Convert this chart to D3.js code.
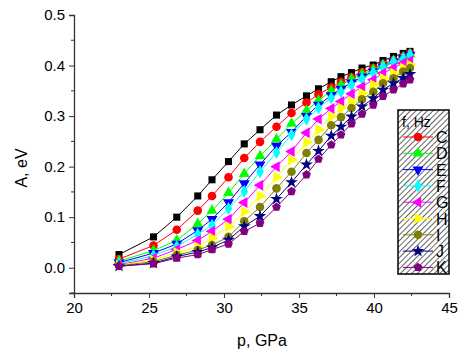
<!DOCTYPE html>
<html>
<head>
<meta charset="utf-8">
<script src="https://cdn.jsdelivr.net/npm/d3@7"></script>
<style>
body { margin: 0; background: #fff; }
text { font-family: "Liberation Sans", Arial, sans-serif; }
</style>
</head>
<body>
<script>
var width = 467, height = 354

// pressure, GPa
var pressure = [23, 25.3, 26.85, 28.25, 29.2, 30.3, 31.35, 32.4, 33.5, 34.5, 35.5, 36.3, 37.15, 37.8, 38.5, 39.2, 39.95, 40.6, 41.3, 41.95, 42.4]

var seriesB = [0.026, 0.061, 0.100, 0.142, 0.174, 0.210, 0.245, 0.273, 0.302, 0.322, 0.340, 0.354, 0.368, 0.378, 0.386, 0.395, 0.401, 0.410, 0.418, 0.424, 0.428]
var seriesC = [0.017, 0.044, 0.075, 0.113, 0.142, 0.179, 0.217, 0.249, 0.279, 0.306, 0.327, 0.343, 0.357, 0.368, 0.377, 0.387, 0.395, 0.403, 0.411, 0.418, 0.424]
var seriesD = [0.013, 0.034, 0.054, 0.087, 0.113, 0.148, 0.186, 0.221, 0.254, 0.285, 0.311, 0.331, 0.350, 0.362, 0.373, 0.383, 0.392, 0.401, 0.409, 0.416, 0.422]
var seriesE = [0.010, 0.029, 0.047, 0.074, 0.096, 0.129, 0.167, 0.204, 0.241, 0.268, 0.300, 0.322, 0.341, 0.354, 0.366, 0.378, 0.388, 0.398, 0.407, 0.414, 0.421]
var seriesF = [0.008, 0.024, 0.042, 0.066, 0.084, 0.117, 0.151, 0.190, 0.228, 0.263, 0.294, 0.316, 0.336, 0.348, 0.362, 0.374, 0.386, 0.398, 0.408, 0.414, 0.421]
var seriesG = [0.006, 0.019, 0.036, 0.054, 0.072, 0.096, 0.129, 0.163, 0.200, 0.230, 0.267, 0.294, 0.315, 0.329, 0.344, 0.358, 0.372, 0.385, 0.395, 0.405, 0.409]
var seriesH = [0.005, 0.015, 0.030, 0.041, 0.059, 0.081, 0.111, 0.142, 0.179, 0.213, 0.248, 0.273, 0.299, 0.316, 0.329, 0.345, 0.362, 0.375, 0.385, 0.395, 0.401]
var seriesI = [0.004, 0.012, 0.025, 0.035, 0.045, 0.061, 0.092, 0.120, 0.157, 0.190, 0.227, 0.253, 0.282, 0.298, 0.316, 0.333, 0.348, 0.365, 0.375, 0.388, 0.395]
var seriesJ = [0.003, 0.009, 0.022, 0.031, 0.040, 0.055, 0.082, 0.102, 0.136, 0.169, 0.204, 0.231, 0.261, 0.279, 0.299, 0.319, 0.335, 0.352, 0.365, 0.375, 0.383]
var seriesK = [0.003, 0.008, 0.019, 0.026, 0.036, 0.047, 0.072, 0.088, 0.120, 0.151, 0.184, 0.215, 0.243, 0.263, 0.285, 0.304, 0.322, 0.339, 0.352, 0.364, 0.372]

var labels = ['', 'C', 'D', 'E', 'F', 'G', 'H', 'I', 'J', 'K']
var colors = ['#000000', '#ff0000', '#00ff00', '#0000ff', '#00ffff', '#ff00ff', '#ffff00', '#808000', '#000080', '#800080']
var xTicks = [20, 25, 30, 35, 40, 45]
var yTicks = [0.0, 0.1, 0.2, 0.3, 0.4, 0.5]

var allSeries = [seriesB, seriesC, seriesD, seriesE, seriesF, seriesG, seriesH, seriesI, seriesJ, seriesK]

// marker shapes
var sym = [
    d3.symbol().type(d3.symbolSquare).size(50),
    d3.symbol().type(d3.symbolCircle).size(58),
    d3.symbol().type(d3.symbolTriangle).size(52),
    d3.symbol().type(d3.symbolTriangle).size(52),
    d3.symbol().type(d3.symbolDiamond).size(50),
    d3.symbol().type(d3.symbolTriangle).size(52),
    d3.symbol().type(d3.symbolTriangle).size(52),
    d3.symbol().type(d3.symbolCircle).size(58),
    d3.symbol().type(d3.symbolStar).size(50),
    d3.symbol().type(d3.symbolCircle).size(58)
]
var rot = [0, 0, 0, 180, 0, -90, 90, 0, 0, 0]

// pentagon for last series
function pentagon(r) {
    var p = []
    for (var i = 0; i < 5; i++) {
        var a = -Math.PI / 2 + i * 2 * Math.PI / 5
        p.push([r * Math.cos(a), r * Math.sin(a)])
    }
    return 'M' + p.join('L') + 'Z'
}

var svg = d3.select('body')
    .append('svg')
    .attr('width', width)
    .attr('height', height)

var xScale = d3.scaleLinear().domain([20, 45]).range([74, 449])
var yScale = d3.scaleLinear().domain([-0.05, 0.5]).range([293, 15])

// hatch pattern for legend
var defs = svg.append('defs')
var pat = defs.append('pattern')
    .attr('id', 'hatch')
    .attr('patternUnits', 'userSpaceOnUse')
    .attr('width', 4)
    .attr('height', 4)
    .attr('patternTransform', 'rotate(45)')
pat.append('rect').attr('width', 4).attr('height', 4).attr('fill', '#fff')
pat.append('line')
    .attr('x1', 0).attr('y1', 0).attr('x2', 0).attr('y2', 4)
    .attr('stroke', '#222').attr('stroke-width', 1.4)

// lines + markers
var line = d3.line()
    .x((d, i) => xScale(pressure[i]))
    .y(d => yScale(d))

allSeries.forEach(function(s, k) {
    svg.append('path')
        .attr('d', line(s))
        .attr('fill', 'none')
        .attr('stroke', colors[k])
        .attr('stroke-width', 1)

    svg.selectAll('.m' + k)
        .data(s)
        .enter()
        .append('path')
        .attr('class', 'm' + k)
        .attr('d', k == 9 ? pentagon(4.6) : sym[k]())
        .attr('transform', (d, i) => 'translate(' + xScale(pressure[i]) + ',' + yScale(d) + ') rotate(' + rot[k] + ')')
        .attr('fill', colors[k])
})

// x axis
var xAxis = svg.append('g')
    .attr('transform', 'translate(0,293)')
    .call(d3.axisBottom(xScale).tickValues(xTicks).tickSize(5).tickPadding(4).tickFormat(d3.format('d')))
xAxis.append('g')
    .selectAll('line')
    .data(d3.range(22.5, 45, 5))
    .enter()
    .append('line')
    .attr('x1', d => xScale(d)).attr('x2', d => xScale(d))
    .attr('y1', 0).attr('y2', 3)
    .attr('stroke', '#333')

// y axis
var yAxis = svg.append('g')
    .attr('transform', 'translate(74,0)')
    .call(d3.axisLeft(yScale).tickValues(yTicks).tickSize(5).tickPadding(4).tickFormat(d3.format('.1f')))
yAxis.append('g')
    .selectAll('line')
    .data([-0.05, 0.05, 0.15, 0.25, 0.35, 0.45])
    .enter()
    .append('line')
    .attr('y1', d => yScale(d)).attr('y2', d => yScale(d))
    .attr('x1', 0).attr('x2', -3)
    .attr('stroke', '#333')

svg.selectAll('.domain').attr('stroke', '#333').attr('stroke-width', 1.3)
svg.selectAll('.tick line').attr('stroke', '#333')
svg.selectAll('.tick text')
    .style('font-size', '15px')
    .style('font-family', '"Liberation Sans", Arial, sans-serif')
    .attr('fill', '#000')

// axis titles
svg.append('text')
    .text('p, GPa')
    .attr('x', 262)
    .attr('y', 346)
    .attr('text-anchor', 'middle')
    .style('font-size', '16px')

svg.append('text')
    .text('A, eV')
    .attr('transform', 'translate(27,168) rotate(-90)')
    .attr('text-anchor', 'middle')
    .style('font-size', '16px')

// legend
var legend = svg.append('g')

legend.append('rect')
    .attr('x', 398)
    .attr('y', 110)
    .attr('width', 51)
    .attr('height', 164)
    .attr('fill', 'url(#hatch)')
    .attr('stroke', '#000')
    .attr('stroke-width', 1.5)

legend.append('text')
    .text('f, Hz')
    .attr('x', 402)
    .attr('y', 127)
    .style('font-size', '14px')

for (var k = 1; k < 10; k++) {
    var ly = 137 + (k - 1) * 16.3
    legend.append('line')
        .attr('x1', 403).attr('x2', 433)
        .attr('y1', ly).attr('y2', ly)
        .attr('stroke', colors[k])
    legend.append('path')
        .attr('d', k == 9 ? pentagon(4.6) : sym[k]())
        .attr('transform', 'translate(418,' + ly + ') rotate(' + rot[k] + ')')
        .attr('fill', colors[k])
    legend.append('text')
        .text(labels[k])
        .attr('x', 436)
        .attr('y', ly + 6)
        .style('font-size', '16px')
}
</script>
</body>
</html>
